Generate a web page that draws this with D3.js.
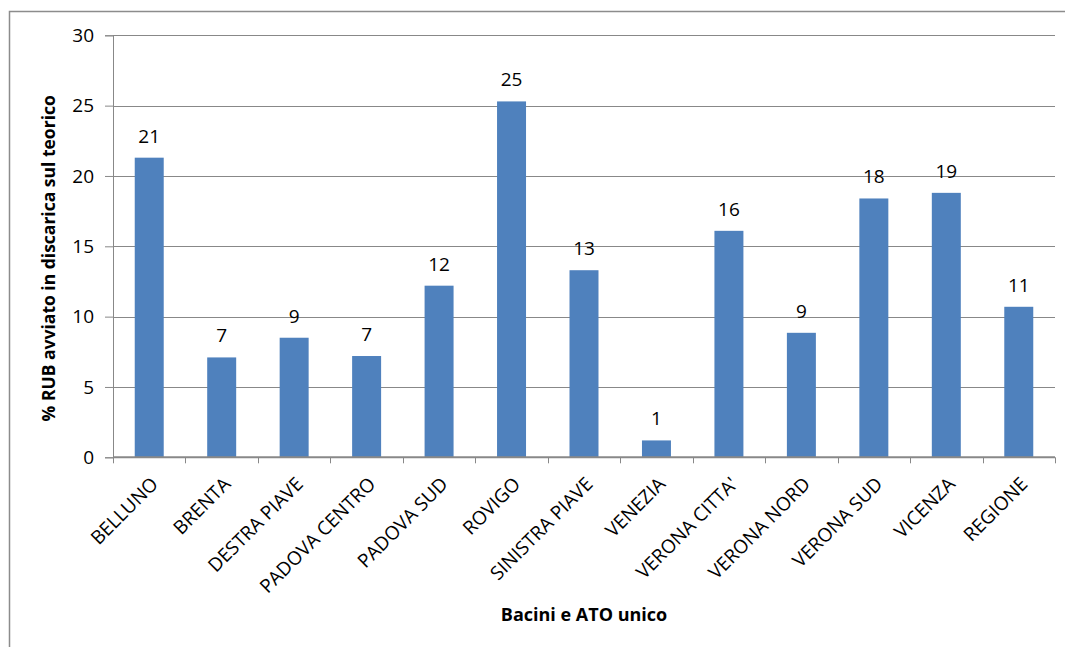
<!DOCTYPE html>
<html>
<head>
<meta charset="utf-8">
<script src="https://cdn.jsdelivr.net/npm/d3@7"></script>
<style>
  html, body { margin: 0; padding: 0; background: #fff; }
  svg { display: block; }
  text { font-family: "Open Sans", "Liberation Sans", sans-serif; fill: #000; }
</style>
</head>
<body>
<svg id="chart" width="1065" height="647"></svg>
<script>
// Percentuale di RUB avviato in discarica rispetto al teorico, per bacino
const categories = ["BELLUNO", "BRENTA", "DESTRA PIAVE", "PADOVA CENTRO", "PADOVA SUD", "ROVIGO",
  "SINISTRA PIAVE", "VENEZIA", "VERONA CITTA'", "VERONA NORD", "VERONA SUD", "VICENZA", "REGIONE"];
const values = [21.3, 7.1, 8.5, 7.2, 12.2, 25.3, 13.3, 1.2, 16.1, 8.85, 18.4, 18.8, 10.7];
const yTicks = [0, 5, 10, 15, 20, 25, 30];
const yTitle = "% RUB avviato in discarica sul teorico";
const xTitle = "Bacini e ATO unico";

const svg = d3.select("#chart");
const W = 1065, H = 647;
const plot = { left: 113, right: 1055, top: 35.3, bottom: 457.3 };

// chart frame (left and top edges)
svg.append("path")
  .attr("d", `M9.5,${H} V11.5 H${W}`)
  .attr("fill", "none").attr("stroke", "#8c8c8c").attr("stroke-width", 1.5);

const x = d3.scaleBand().domain(categories).range([plot.left, plot.right])
  .paddingInner(0.6).paddingOuter(0.3);
const y = d3.scaleLinear().domain([0, 30]).range([plot.bottom, plot.top]);

// horizontal gridlines
svg.append("g").selectAll("line").data(yTicks.filter(d => d > 0)).join("line")
  .attr("x1", plot.left).attr("x2", plot.right)
  .attr("y1", d => Math.round(y(d)) + 0.5).attr("y2", d => Math.round(y(d)) + 0.5)
  .attr("stroke", "#888").attr("stroke-width", 1);

// y axis
const yAxis = svg.append("g").attr("transform", `translate(${plot.left},0)`)
  .call(d3.axisLeft(y).tickValues(yTicks).tickSize(8).tickPadding(11));
yAxis.select(".domain").attr("stroke", "#888");
yAxis.selectAll(".tick line").attr("stroke", "#888");
yAxis.selectAll(".tick text").attr("font-size", 19).attr("font-family", "Open Sans, sans-serif")
  .attr("fill", "#000");

// bars
svg.append("g").selectAll("rect").data(categories).join("rect")
  .attr("x", d => x(d)).attr("width", x.bandwidth())
  .attr("y", (d, i) => y(values[i])).attr("height", (d, i) => y(0) - y(values[i]))
  .attr("fill", "#4f81bd");

// value labels
svg.append("g").selectAll("text").data(categories).join("text")
  .attr("x", d => x(d) + x.bandwidth() / 2)
  .attr("y", (d, i) => y(values[i]) - 15)
  .attr("text-anchor", "middle").attr("font-size", 19)
  .text((d, i) => d3.format(".0f")(values[i]));

// x axis line and tick marks at category boundaries
const step = (plot.right - plot.left) / categories.length;
svg.append("line").attr("x1", plot.left).attr("x2", plot.right)
  .attr("y1", y(0)).attr("y2", y(0)).attr("stroke", "#888").attr("stroke-width", 2);
svg.append("g").selectAll("line").data(d3.range(categories.length + 1)).join("line")
  .attr("x1", i => Math.round(plot.left + i * step) + 0.5)
  .attr("x2", i => Math.round(plot.left + i * step) + 0.5)
  .attr("y1", y(0)).attr("y2", y(0) + 6)
  .attr("stroke", "#888").attr("stroke-width", 1);

// rotated category labels
svg.append("g").selectAll("text").data(categories).join("text")
  .attr("transform", d => `translate(${x(d) + x.bandwidth() / 2 + 10},${plot.bottom + 28}) rotate(-45)`)
  .attr("text-anchor", "end").attr("font-size", 19)
  .text(d => d);

// axis titles
svg.append("text")
  .attr("transform", `translate(55,${(plot.top + plot.bottom) / 2 + 12}) rotate(-90)`)
  .attr("text-anchor", "middle").attr("font-size", 17.5).attr("font-weight", "bold")
  .text(yTitle);
svg.append("text")
  .attr("x", (plot.left + plot.right) / 2).attr("y", 621)
  .attr("text-anchor", "middle").attr("font-size", 18).attr("font-weight", "bold")
  .text(xTitle);
</script>
</body>
</html>
